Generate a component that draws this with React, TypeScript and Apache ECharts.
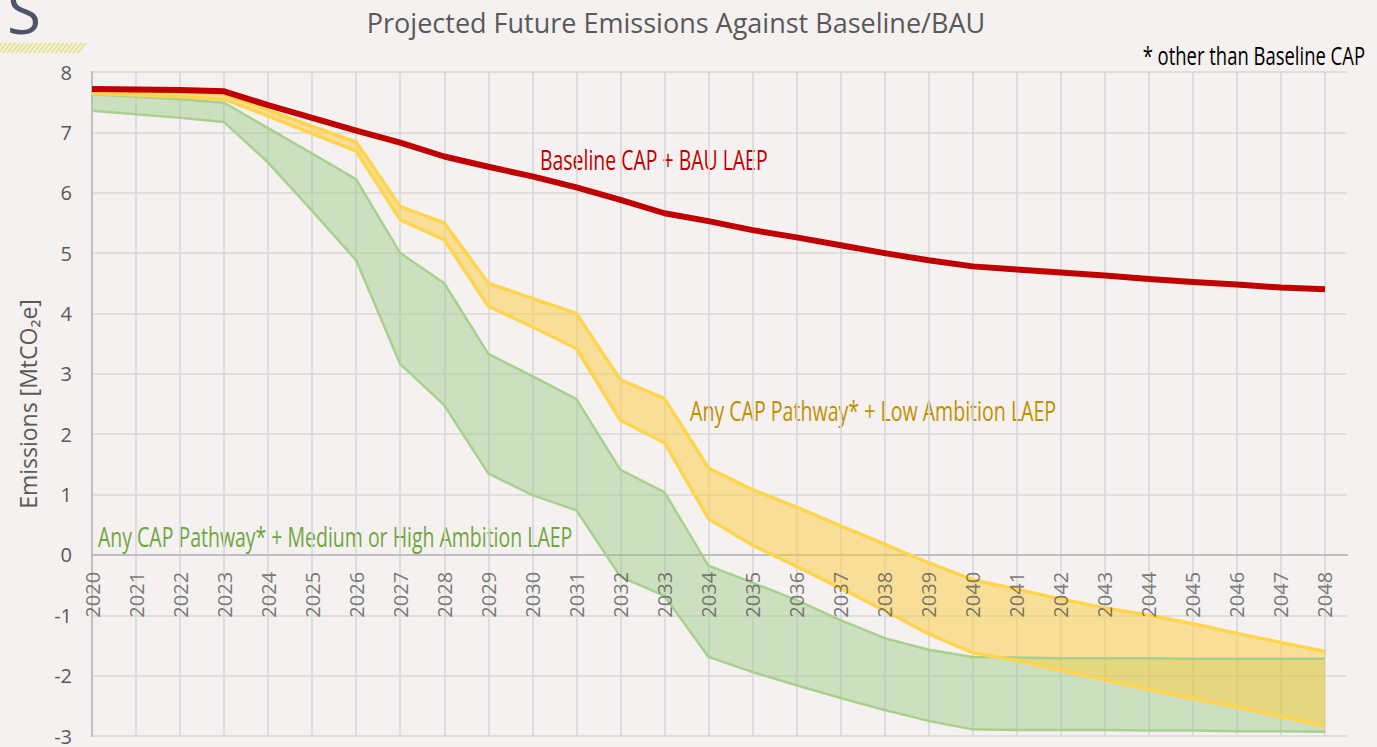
import React, { useEffect, useRef } from "react";
import * as echarts from "echarts";

const years = [2020, 2021, 2022, 2023, 2024, 2025, 2026, 2027, 2028, 2029, 2030, 2031, 2032, 2033, 2034, 2035, 2036, 2037, 2038, 2039, 2040, 2041, 2042, 2043, 2044, 2045, 2046, 2047, 2048];

const baseline = [7.72, 7.71, 7.7, 7.68, 7.45, 7.24, 7.03, 6.83, 6.6, 6.43, 6.27, 6.09, 5.88, 5.66, 5.53, 5.38, 5.26, 5.13, 5.0, 4.88, 4.78, 4.73, 4.68, 4.63, 4.57, 4.52, 4.48, 4.43, 4.4];

const lowUpper = [7.7, 7.68, 7.66, 7.63, 7.37, 7.1, 6.84, 5.77, 5.5, 4.5, 4.25, 4.0, 2.9, 2.59, 1.44, 1.08, 0.79, 0.48, 0.18, -0.13, -0.41, -0.57, -0.73, -0.88, -1.0, -1.14, -1.3, -1.45, -1.6];
const lowLower = [7.65, 7.62, 7.59, 7.55, 7.27, 6.98, 6.69, 5.55, 5.22, 4.12, 3.78, 3.42, 2.23, 1.86, 0.6, 0.16, -0.19, -0.55, -0.92, -1.31, -1.62, -1.75, -1.91, -2.07, -2.23, -2.38, -2.52, -2.68, -2.84];

const medUpper = [7.63, 7.59, 7.55, 7.49, 7.07, 6.65, 6.22, 5.0, 4.5, 3.33, 2.96, 2.58, 1.41, 1.04, -0.18, -0.46, -0.75, -1.08, -1.38, -1.57, -1.69, -1.7, -1.71, -1.71, -1.71, -1.72, -1.72, -1.72, -1.72];
const medLower = [7.36, 7.3, 7.24, 7.17, 6.5, 5.7, 4.88, 3.16, 2.48, 1.35, 0.99, 0.74, -0.36, -0.68, -1.69, -1.94, -2.16, -2.37, -2.57, -2.75, -2.89, -2.9, -2.9, -2.9, -2.91, -2.91, -2.92, -2.92, -2.93];

const yMin = -3;
const yMax = 8;
const xMin = 2020;
const xMax = 2048.5;

const FONT = '"Open Sans", "Noto Sans", sans-serif';
const BG = "#f4f1f0";

function pairs(arr: number[]) {
  return years.map((y, i) => [y, arr[i]]);
}

function band(name: string, upper: number[], lower: number[], fill: string, z: number) {
  return {
    type: "custom",
    name,
    z,
    silent: true,
    clip: true,
    coordinateSystem: "cartesian2d",
    data: [[years[0], upper[0]]],
    encode: { x: 0, y: 1 },
    renderItem: (_params: any, api: any) => {
      const pts: number[][] = [];
      for (let i = 0; i < years.length; i++) pts.push(api.coord([years[i], upper[i]]));
      for (let i = years.length - 1; i >= 0; i--) pts.push(api.coord([years[i], lower[i]]));
      return { type: "polygon", shape: { points: pts }, style: { fill, stroke: "none" } };
    },
  };
}

function line(name: string, arr: number[], color: string, width: number, z: number) {
  return {
    type: "line",
    name,
    z,
    silent: true,
    symbol: "none",
    data: pairs(arr),
    lineStyle: { color, width, join: "round" },
  };
}

function hatch() {
  const els: any[] = [];
  for (let x = -6; x < 82; x += 4.4) {
    els.push({
      type: "line",
      shape: { x1: x, y1: 53, x2: x + 8, y2: 43 },
      style: { stroke: "#e3e48c", lineWidth: 2 },
      silent: true,
    });
  }
  return els;
}

function note(text: string, x: number, y: number, color: string, size: number, sx: number, align = "left") {
  return {
    type: "text",
    x,
    y,
    silent: true,
    scaleX: sx,
    style: { text, font: `${size}px ${FONT}`, fill: color, textAlign: align, textVerticalAlign: "middle" },
  };
}

export default function App() {
  const ref = useRef<HTMLDivElement>(null);
  useEffect(() => {
    if (!ref.current) return;
    const chart = echarts.init(ref.current, undefined, { renderer: "svg" });
    chart.setOption({
      animation: false,
      backgroundColor: BG,
      textStyle: { fontFamily: FONT },
      grid: { left: 92, right: 30, top: 72, bottom: 11, containLabel: false, outerBoundsMode: "none" },
      xAxis: {
        type: "value",
        min: xMin,
        max: xMax,
        interval: 1,
        axisLine: { show: true, onZero: true, lineStyle: { color: "#bfbfbf", width: 2 } },
        axisTick: { show: false },
        axisLabel: { show: false },
        splitLine: { show: true, showMaxLine: false, lineStyle: { color: "#d9d9d9", width: 1.6 } },
      },
      yAxis: {
        type: "value",
        min: yMin,
        max: yMax,
        interval: 1,
        name: "Emissions [MtCO₂e]",
        nameLocation: "middle",
        nameGap: 53,
        nameTextStyle: { fontSize: 23, color: "#595959", fontFamily: FONT },
        axisLine: { show: true, onZero: false, lineStyle: { color: "#bfbfbf", width: 2 } },
        axisTick: { show: false },
        axisLabel: { margin: 20, fontSize: 20, color: "#595959", fontFamily: FONT },
        splitLine: { show: true, lineStyle: { color: "#d9d9d9", width: 1.6 } },
      },
      series: [
        band("Medium/High band", medUpper, medLower, "rgba(146,201,120,0.4)", 1),
        band("Low band", lowUpper, lowLower, "rgba(254,203,64,0.5)", 2),
        line("Medium/High upper", medUpper, "#a9d18e", 2.5, 3),
        line("Medium/High lower", medLower, "#a9d18e", 2.5, 3),
        line("Low upper", lowUpper, "#ffd54f", 3.5, 4),
        line("Low lower", lowLower, "#ffd54f", 3.5, 4),
        line("Baseline CAP + BAU LAEP", baseline, "#c00000", 6, 5),
        {
          type: "scatter",
          name: "Year labels",
          z: 6,
          silent: true,
          symbolSize: 0,
          data: years.map((y) => [y, 0]),
          label: {
            show: true,
            position: "bottom",
            distance: 17,
            rotate: 90,
            align: "right",
            verticalAlign: "middle",
            fontSize: 20,
            color: "#595959",
            fontFamily: FONT,
            formatter: (p: any) => String(p.value[0]),
          },
        },
      ],
      graphic: [
        {
          type: "text",
          x: 7,
          y: 10,
          silent: true,
          style: { text: "S", font: `62px ${FONT}`, fill: "#4d5566", textAlign: "left", textVerticalAlign: "middle" },
        },
        { type: "group", silent: true, children: hatch() },
        note("Projected Future Emissions Against Baseline/BAU", 676, 22, "#595959", 28, 0.965, "center"),
        note("* other than Baseline CAP", 1365, 55, "#000000", 26, 0.71, "right"),
        note("Baseline CAP + BAU LAEP", 540, 160, "#c00000", 27, 0.72),
        note("Any CAP Pathway* + Low Ambition LAEP", 690, 411, "#bf9000", 27, 0.725),
        note("Any CAP Pathway* + Medium or High Ambition LAEP", 98, 537, "#72a541", 27, 0.722),
      ],
    });
    return () => chart.dispose();
  }, []);
  return (
    <div
      ref={ref}
      style={{ position: "fixed", left: 0, top: 0, width: 1377, height: 747, background: BG }}
    />
  );
}
